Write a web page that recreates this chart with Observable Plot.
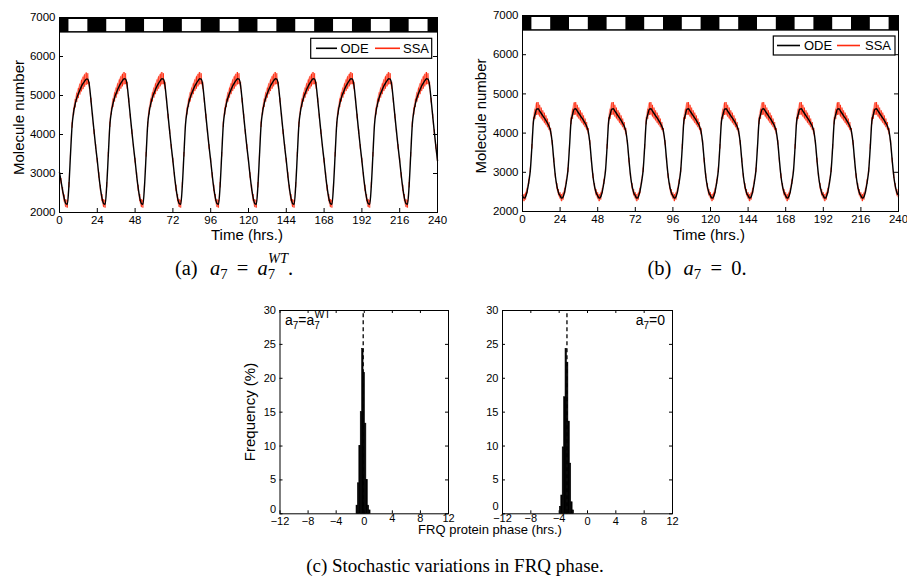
<!DOCTYPE html>
<html>
<head>
<meta charset="utf-8">
<script src="https://cdn.jsdelivr.net/npm/d3@7"></script>
<script src="https://cdn.jsdelivr.net/npm/@observablehq/plot@0.6"></script>
<style>
html, body { margin: 0; padding: 0; background: #fff; }
#root { position: relative; width: 907px; height: 576px; overflow: hidden; font-family: "Liberation Sans", Arial, sans-serif; }
.cap { position: absolute; width: 460px; text-align: center; font-family: "Liberation Serif", "Times New Roman", serif; font-size: 19px; line-height: 1; white-space: nowrap; color: #000; }
.capm { font-size: 20.5px; }
.sb { font-size: .72em; position: relative; top: .3em; }
.sp { font-style: italic; font-size: .7em; position: relative; top: -.85em; margin-left: -.5em; }
.g1 { margin-left: .6em; }
.g2 { margin: 0 .45em; }
</style>
</head>
<body>
<div id="root"></div>
<script>
// ---------------- data ----------------
const timeTicks = [0, 24, 48, 72, 96, 120, 144, 168, 192, 216, 240];
const moleculeTicks = [2000, 3000, 4000, 5000, 6000, 7000];
const lightOn  = [6, 30, 54, 78, 102, 126, 150, 174, 198, 222];
const lightOff = [18, 42, 66, 90, 114, 138, 162, 186, 210, 234];
const ldBarBottom = 6600;
const ldBarTop = 7000;

// hourly time grid 0..240
const timeHours = d3.range(0, 241);

// ODE FRQ protein, a7 = a7^WT (hourly)
const odeWT = [
3030,2800,2560,2360,2230,2210,2700,3500,4230,4580,4790,4940,5050,5150,5240,5310,5370,5420,5420,5250,4870,4460,4060,3680,
3330,2950,2620,2370,2230,2210,2700,3480,4250,4590,4800,4950,5060,5160,5250,5320,5380,5430,5420,5250,4870,4460,4060,3680,
3330,2950,2620,2370,2230,2210,2700,3480,4250,4590,4800,4950,5060,5160,5250,5320,5380,5430,5420,5250,4870,4460,4060,3680,
3330,2950,2620,2370,2230,2210,2700,3480,4250,4590,4800,4950,5060,5160,5250,5320,5380,5430,5420,5250,4870,4460,4060,3680,
3330,2950,2620,2370,2230,2210,2700,3480,4250,4590,4800,4950,5060,5160,5250,5320,5380,5430,5420,5250,4870,4460,4060,3680,
3330,2950,2620,2370,2230,2210,2700,3480,4250,4590,4800,4950,5060,5160,5250,5320,5380,5430,5420,5250,4870,4460,4060,3680,
3330,2950,2620,2370,2230,2210,2700,3480,4250,4590,4800,4950,5060,5160,5250,5320,5380,5430,5420,5250,4870,4460,4060,3680,
3330,2950,2620,2370,2230,2210,2700,3480,4250,4590,4800,4950,5060,5160,5250,5320,5380,5430,5420,5250,4870,4460,4060,3680,
3330,2950,2620,2370,2230,2210,2700,3480,4250,4590,4800,4950,5060,5160,5250,5320,5380,5430,5420,5250,4870,4460,4060,3680,
3330,2950,2620,2370,2230,2210,2700,3480,4250,4590,4800,4950,5060,5160,5250,5320,5380,5430,5420,5250,4870,4460,4060,3680,
3330];

// ODE FRQ protein, a7 = 0 (hourly)
const odeA0 = [
2410,2340,2380,2520,2750,3050,3650,4300,4480,4610,4620,4560,4500,4440,4380,4320,4250,4170,4040,3750,3300,2900,2640,2480,
2400,2340,2380,2520,2750,3050,3650,4300,4480,4610,4620,4560,4500,4440,4380,4320,4250,4170,4040,3750,3300,2900,2640,2480,
2400,2340,2380,2520,2750,3050,3650,4300,4480,4610,4620,4560,4500,4440,4380,4320,4250,4170,4040,3750,3300,2900,2640,2480,
2400,2340,2380,2520,2750,3050,3650,4300,4480,4610,4620,4560,4500,4440,4380,4320,4250,4170,4040,3750,3300,2900,2640,2480,
2400,2340,2380,2520,2750,3050,3650,4300,4480,4610,4620,4560,4500,4440,4380,4320,4250,4170,4040,3750,3300,2900,2640,2480,
2400,2340,2380,2520,2750,3050,3650,4300,4480,4610,4620,4560,4500,4440,4380,4320,4250,4170,4040,3750,3300,2900,2640,2480,
2400,2340,2380,2520,2750,3050,3650,4300,4480,4610,4620,4560,4500,4440,4380,4320,4250,4170,4040,3750,3300,2900,2640,2480,
2400,2340,2380,2520,2750,3050,3650,4300,4480,4610,4620,4560,4500,4440,4380,4320,4250,4170,4040,3750,3300,2900,2640,2480,
2400,2340,2380,2520,2750,3050,3650,4300,4480,4610,4620,4560,4500,4440,4380,4320,4250,4170,4040,3750,3300,2900,2640,2480,
2400,2340,2380,2520,2750,3050,3650,4300,4480,4610,4620,4560,4500,4440,4380,4320,4250,4170,4040,3750,3300,2900,2640,2480,
2420];

// SSA envelope half-width by hour of day (read from the red fringe)
const ssaHalfWT = [60,70,80,90,100,100,70,60,70,90,110,120,130,140,150,160,160,160,140,90,60,60,60,60];
const ssaHalfA0 = [80,90,90,70,60,60,60,90,130,160,160,150,140,130,130,120,110,100,80,60,60,60,70,80];

// histograms of FRQ protein phase
const phaseTicks = [-12, -8, -4, 0, 4, 8, 12];
const freqTicks = [0, 5, 10, 15, 20, 25, 30];
const binWidth = 0.2;
const binStartWT = [-1.1, -0.9, -0.7, -0.5, -0.3, -0.1, 0.1, 0.3, 0.5, 0.7];
const freqWT     = [1.2, 4.5, 10.0, 15.0, 24.3, 20.8, 13.3, 5.0, 1.2, 0.5];
const odePhaseWT = -0.15;
const binStartA0 = [-3.9, -3.7, -3.5, -3.3, -3.1, -2.9, -2.7, -2.5, -2.3, -2.1];
const freqA0     = [1.0, 2.7, 9.8, 17.2, 24.3, 22.3, 13.6, 7.4, 1.7, 0.5];
const odePhaseA0 = -2.9;

// ---------------- drawing ----------------
const RED = "#ff2b0f";
const SANS = "'Liberation Sans', Arial, Helvetica, sans-serif";
const root = document.getElementById("root");
const fmt = d3.format("d");

function place(node, left, top) {
  node.style.position = "absolute";
  node.style.left = left + "px";
  node.style.top = top + "px";
  root.appendChild(node);
}

function timePanel(ode, half, g) {
  const rows = ode.map((v, i) => ({t: timeHours[i], ode: v, lo: v - half[i % 24], hi: v + half[i % 24]}));
  const light = lightOn.map((on, i) => ({on, off: lightOff[i]}));
  const iw = g.width - g.ml - g.mr, ih = g.height - g.mt - g.mb;
  return Plot.plot({
    width: g.width, height: g.height,
    marginLeft: g.ml, marginRight: g.mr, marginTop: g.mt, marginBottom: g.mb,
    x: {domain: [timeTicks[0], timeTicks[timeTicks.length - 1]]},
    y: {domain: [moleculeTicks[0], moleculeTicks[moleculeTicks.length - 1]]},
    style: {fontFamily: SANS, fontSize: "11.5px", color: "black", background: "transparent", overflow: "visible"},
    marks: [
      Plot.areaY(rows, {x: "t", y1: "lo", y2: "hi", fill: RED, fillOpacity: 0.45, curve: "monotone-x"}),
      Plot.ruleX(rows, {x: "t", y1: "lo", y2: "hi", stroke: RED, strokeWidth: 1}),
      Plot.line(rows, {x: "t", y: "ode", stroke: "black", strokeWidth: 1.4, curve: "monotone-x"}),
      Plot.rect([{x1: timeTicks[0], x2: timeTicks[timeTicks.length - 1]}], {x1: "x1", x2: "x2", y1: () => ldBarBottom, y2: () => ldBarTop, fill: "black"}),
      Plot.rect(light, {x1: "on", x2: "off", y1: () => ldBarBottom, y2: () => ldBarTop, fill: "white", insetTop: 2, insetBottom: 1.5}),
      Plot.tickY(moleculeTicks, {y: d => d, insetRight: iw - 4, stroke: "black"}),
      Plot.tickY(moleculeTicks, {y: d => d, insetLeft: iw - 4, stroke: "black"}),
      Plot.tickX(timeTicks, {x: d => d, insetTop: ih - 4, stroke: "black"}),
      Plot.frame({stroke: "black"}),
      Plot.axisX({ticks: timeTicks, tickSize: 0, tickPadding: 3, tickFormat: fmt, label: null}),
      Plot.axisY({ticks: moleculeTicks, tickSize: 0, tickPadding: 4, tickFormat: fmt, label: null})
    ]
  });
}

function histPanel(binStart, freq, odePhase, raised, zeroLift, g) {
  const rows = binStart.map((s, i) => ({x1: s, x2: s + binWidth, f: freq[i]}));
  const iw = g.width - g.ml - g.mr, ih = g.height - g.mt - g.mb;
  const normal = phaseTicks.filter(t => !raised.includes(t));
  const yUpper = freqTicks.filter(t => t !== 0);
  return Plot.plot({
    width: g.width, height: g.height,
    marginLeft: g.ml, marginRight: g.mr, marginTop: g.mt, marginBottom: g.mb,
    x: {domain: [phaseTicks[0], phaseTicks[phaseTicks.length - 1]]},
    y: {domain: [freqTicks[0], freqTicks[freqTicks.length - 1]]},
    style: {fontFamily: SANS, fontSize: "11px", color: "black", background: "transparent", overflow: "visible"},
    marks: [
      Plot.ruleX([odePhase], {x: d => d, y1: () => freqTicks[0], y2: () => freqTicks[freqTicks.length - 1], stroke: "black", strokeWidth: 1.3, strokeDasharray: "4,3"}),
      Plot.rect(rows, {x1: "x1", x2: "x2", y1: () => 0, y2: "f", fill: "black", stroke: "black", strokeWidth: 0.6}),
      Plot.tickY(freqTicks, {y: d => d, insetRight: iw - 3, stroke: "black"}),
      Plot.tickY(freqTicks, {y: d => d, insetLeft: iw - 3, stroke: "black"}),
      Plot.tickX(phaseTicks, {x: d => d, insetTop: ih - 3, stroke: "black"}),
      Plot.tickX(phaseTicks, {x: d => d, insetBottom: ih - 3, stroke: "black"}),
      Plot.frame({stroke: "black"}),
      Plot.axisY({ticks: yUpper, tickSize: 0, tickPadding: 4, tickFormat: fmt, label: null}),
      Plot.axisY({ticks: [0], tickSize: 0, tickPadding: 4, tickFormat: fmt, label: null, dy: -zeroLift}),
      Plot.axisX({ticks: normal, tickSize: 0, tickPadding: 3, tickFormat: fmt, label: null}),
      Plot.axisX({ticks: raised, tickSize: 0, tickPadding: 3, tickFormat: fmt, label: null, dy: -3})
    ]
  });
}

place(timePanel(odeWT, ssaHalfWT, {width: 450, height: 250, ml: 59, mr: 13, mt: 17, mb: 38}), 0, 0);
place(timePanel(odeA0, ssaHalfA0, {width: 452, height: 250, ml: 67, mr: 9, mt: 15, mb: 39}), 455, 0);
place(histPanel(binStartWT, freqWT, odePhaseWT, [4, 8, 12], 4, {width: 230, height: 240, ml: 49.5, mr: 12, mt: 15, mb: 21.7}), 230, 295);
place(histPanel(binStartA0, freqA0, odePhaseA0, [-12, -8, -4], 7, {width: 225, height: 240, ml: 42, mr: 13, mt: 15, mb: 21.7}), 460, 295);

// ---------------- overlay texts & legends ----------------
const ov = d3.select(root).append("svg")
  .attr("width", 907).attr("height", 576)
  .style("position", "absolute").style("left", "0px").style("top", "0px")
  .style("font-family", SANS);

function rotLabel(x, y, text, size) {
  ov.append("text").attr("transform", `translate(${x},${y}) rotate(-90)`)
    .attr("text-anchor", "middle").attr("dominant-baseline", "central")
    .attr("font-size", size).text(text);
}
function hLabel(x, y, text, size) {
  ov.append("text").attr("x", x).attr("y", y).attr("text-anchor", "middle")
    .attr("font-size", size).text(text);
}
rotLabel(18, 117.5, "Molecule number", 15);
rotLabel(480, 116, "Molecule number", 15);
hLabel(247, 240, "Time (hrs.)", 15);
hLabel(709, 239.5, "Time (hrs.)", 15);
rotLabel(249.5, 412, "Frequency (%)", 15);
hLabel(490, 534, "FRQ protein phase (hrs.)", 13);

function legend(x, y, w, h, items) {
  ov.append("rect").attr("x", x).attr("y", y).attr("width", w).attr("height", h)
    .attr("fill", "white").attr("stroke", "black").attr("stroke-width", 1.2);
  const cy = y + h / 2;
  items.forEach(it => {
    ov.append("line").attr("x1", it.x1).attr("x2", it.x2).attr("y1", cy).attr("y2", cy)
      .attr("stroke", it.color).attr("stroke-width", 1.6);
    ov.append("text").attr("x", it.tx).attr("y", cy + 4.6).attr("font-size", 13).text(it.label);
  });
}
legend(310.7, 38.3, 121, 20, [
  {x1: 316, x2: 337, tx: 340.5, color: "black", label: "ODE"},
  {x1: 375, x2: 400, tx: 403, color: RED, label: "SSA"}
]);
legend(773.3, 36, 121.7, 19, [
  {x1: 777, x2: 800, tx: 804, color: "black", label: "ODE"},
  {x1: 837, x2: 860, tx: 865, color: RED, label: "SSA"}
]);

// histogram annotations
const t1 = ov.append("text").attr("x", 285).attr("y", 324.5).attr("font-size", 14);
t1.append("tspan").text("a");
t1.append("tspan").attr("dy", 4).attr("font-size", 10).text("7");
t1.append("tspan").attr("dy", -4).text("=a");
t1.append("tspan").attr("dy", 4).attr("font-size", 10).text("7");
t1.append("tspan").attr("dx", -5.5).attr("dy", -11).attr("font-size", 10.5).text("WT");

const t2 = ov.append("text").attr("x", 665).attr("y", 325).attr("font-size", 14).attr("text-anchor", "end");
t2.append("tspan").text("a");
t2.append("tspan").attr("dy", 4).attr("font-size", 10).text("7");
t2.append("tspan").attr("dy", -4).text("=0");

// captions
function caption(cx, top, html, cls) {
  const d = document.createElement("div");
  d.className = "cap" + (cls ? " " + cls : "");
  d.innerHTML = html;
  place(d, cx - 230, top);
}
caption(234, 258, '(a)<span class="g1"></span><i>a</i><span class="sb">7</span><span class="g2">=</span><i>a</i><span class="sb">7</span><span class="sp">WT</span>.', "capm");
caption(697, 258, '(b)<span class="g1"></span><i>a</i><span class="sb">7</span><span class="g2">=</span>0.', "capm");
caption(455, 556, '(c) Stochastic variations in FRQ phase.');
</script>
</body>
</html>
